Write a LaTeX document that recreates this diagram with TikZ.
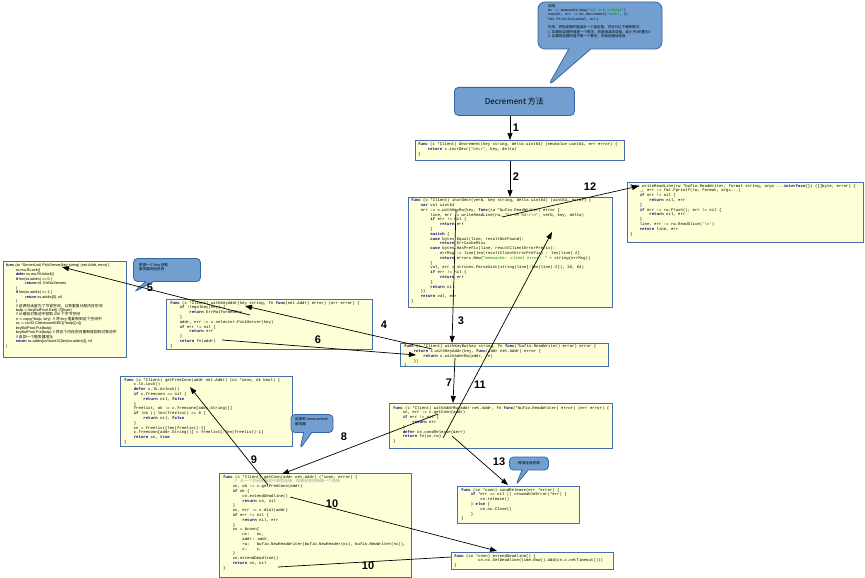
\documentclass[tikz,border=0pt]{standalone}
\usepackage{fontspec}
\setmainfont{Liberation Sans}
\newfontfamily\codefont{Liberation Mono}
\newfontfamily\cjk{Noto Sans CJK SC}
\usetikzlibrary{arrows.meta,calc,shapes.callouts}
\definecolor{boxfill}{RGB}{255,255,215}
\definecolor{boxline}{RGB}{70,110,170}
\definecolor{callfill}{RGB}{114,159,207}
\definecolor{callline}{RGB}{52,101,164}
\definecolor{kwc}{RGB}{0,0,128}
\definecolor{strc}{RGB}{0,128,0}
\definecolor{cmtc}{RGB}{150,150,150}
\newcommand\K[1]{\textcolor{kwc}{\textbf{#1}}}
\newcommand\Sg[1]{\textcolor{strc}{#1}}
\newcommand\Cm[1]{\textcolor{cmtc}{#1}}
\newcommand\I{\hspace*{9.6pt}}
\newcommand\II{\hspace*{19.2pt}}
\newcommand\III{\hspace*{28.8pt}}
\tikzset{
  codebox/.style={draw=boxline, fill=boxfill, line width=0.8pt, anchor=north west, inner sep=0pt, rectangle},
  codetext/.style={anchor=north west, inner sep=0pt, align=left, font=\codefont\fontsize{4}{4.8}\selectfont},
  proptext/.style={anchor=north west, inner sep=0pt, align=left, font=\fontsize{3.8}{4.45}\selectfont},
  arr/.style={line width=0.7pt, draw=black, -{Triangle[length=7pt,width=5pt]}},
  num/.style={font=\bfseries\fontsize{11}{12}\selectfont, inner sep=0pt},
  bubble/.style={rectangle callout, draw=callline, fill=callfill, line width=0.8pt, rounded corners=7pt, inner sep=0pt},
  bubtext/.style={inner sep=0pt, align=left, font=\cjk\fontsize{3.6}{4.4}\selectfont}
}
\begin{document}
\begin{tikzpicture}[x=1pt,y=-1pt]
\useasboundingbox (0,0) rectangle (865,578);

% ---------- callouts ----------
\coordinate (tipA) at (548,86);
\node[bubble, minimum width=124pt, minimum height=47pt, callout absolute pointer=(tipA), callout pointer width=22pt] (callA) at (600,25.5) {};
\node[anchor=north west, inner sep=0pt, align=left, font=\codefont\fontsize{3.5}{4.4}\selectfont] (callAt) at (548,4) {%
{\cjk 调用：}\\
mc := memcache.New(\Sg{"127.0.0.1:11211"})\\
newVal, err := mc.Decrement(\Sg{"hook"}, 1)\\
fmt.Println(newVal, err)\\[4pt]
{\cjk 作用：将指定键的值减去一个固定值，可分为以下两种情况：}\\
{\cjk 1. 如果指定键的值是一个数字，则直接减去该值，若小于0则置为0}\\
{\cjk 2. 如果指定键的值不是一个数字，则返回错误信息}};

\node[draw=callline, fill=callfill, line width=0.8pt, rounded corners=4pt, minimum width=120pt, minimum height=28pt, anchor=north west, font=\cjk\fontsize{8}{9}\selectfont] (dec) at (454,87) {Decrement 方法};

% ---------- code boxes ----------
\node[codebox, minimum width=209pt, minimum height=20pt] (decF) at (415,140) {};
\node[codetext] (decFt) at (418,142.5) {%
\K{func} (c *Client) Decrement(key string, delta uint64) (newValue uint64, err error) \{\\
\I\K{return} c.incrDecr(\Sg{"decr"}, key, delta)\\
\}};

\node[codebox, minimum width=204pt, minimum height=110pt] (incr) at (408,197) {};
\node[codetext] (incrt) at (411,198.5) {%
\K{func} (c *Client) incrDecr(verb, key string, delta uint64) (uint64, error) \{\\
\I\K{var} val uint64\\
\I err := c.withKeyRw(key, \K{func}(rw *bufio.ReadWriter) error \{\\
\II line, err := writeReadLine(rw, \Sg{"\%s \%s \%d\textbackslash r\textbackslash n"}, verb, key, delta)\\
\II\K{if} err != nil \{\\
\III\K{return} err\\
\II\}\\
\II\K{switch} \{\\
\II\K{case} bytes.Equal(line, resultNotFound):\\
\III\K{return} ErrCacheMiss\\
\II\K{case} bytes.HasPrefix(line, resultClientErrorPrefix):\\
\III errMsg := line[len(resultClientErrorPrefix) : len(line)-2]\\
\III\K{return} errors.New(\Sg{"memcache: client error: "} + string(errMsg))\\
\II\}\\
\II val, err = strconv.ParseUint(string(line[:len(line)-2]), 10, 64)\\
\II\K{if} err != nil \{\\
\III\K{return} err\\
\II\}\\
\II\K{return} nil\\
\I\})\\
\I\K{return} val, err\\
\}};

\node[codebox, minimum width=236pt, minimum height=60pt] (wrl) at (627,182) {};
\node[codetext] (wrlt) at (630,184) {%
\K{func} writeReadLine(rw *bufio.ReadWriter, format string, args ...\K{interface}\{\}) ([]byte, error) \{\\
\I\_, err := fmt.Fprintf(rw, format, args...)\\
\I\K{if} err != nil \{\\
\II\K{return} nil, err\\
\I\}\\
\I\K{if} err := rw.Flush(); err != nil \{\\
\II\K{return} nil, err\\
\I\}\\
\I line, err := rw.ReadSlice(\Sg{'\textbackslash n'})\\
\I\K{return} line, err\\
\}};

\node[codebox, minimum width=123pt, minimum height=96pt] (pick) at (3,261) {};
\node[proptext] (pickt) at (6,264) {%
\K{func} (ss *ServerList) PickServer(key string) (net.Addr, error) \{\\
\I ss.mu.RLock()\\
\I\K{defer} ss.mu.RUnlock()\\
\I\K{if} len(ss.addrs) == 0 \{\\
\II\K{return} nil, ErrNoServers\\
\I\}\\
\I\K{if} len(ss.addrs) == 1 \{\\
\II\K{return} ss.addrs[0], nil\\
\I\}\\
\I // {\cjk 这两句话是为了节省空间，以免重复分配内存空间}\\
\I bufp := keyBufPool.Get().(*[]byte)\\
\I // {\cjk 从缓存对象池中获取 256 个字节空间}\\
\I n := copy(*bufp, key) \ // {\cjk 将 key 值复制到这个空间中}\\
\I cs := crc32.ChecksumIEEE((*bufp)[:n])\\
\I keyBufPool.Put(bufp)\\
\I keyBufPool.Put(bufp) // {\cjk 将这个内存空间重新放回到对象池中}\\
\I // {\cjk 返回一个服务器地址}\\
\I\K{return} ss.addrs[cs\%uint32(len(ss.addrs))], nil\\
\}};

\node[codebox, minimum width=206pt, minimum height=50pt] (wka) at (166,299) {};
\node[codetext] (wkat) at (170,301) {%
\K{func} (c *Client) withKeyAddr(key string, fn \K{func}(net.Addr) error) (err error) \{\\
\I\K{if} !legalKey(key) \{\\
\II\K{return} ErrMalformedKey\\
\I\}\\
\I addr, err := c.selector.PickServer(key)\\
\I\K{if} err != nil \{\\
\II\K{return} err\\
\I\}\\
\I\K{return} fn(addr)\\
\}};

\node[codebox, minimum width=208pt, minimum height=23pt] (wkr) at (400,343) {};
\node[codetext] (wkrt) at (404,344.5) {%
\K{func} (c *Client) withKeyRw(key string, fn \K{func}(*bufio.ReadWriter) error) error \{\\
\I\K{return} c.withKeyAddr(key, \K{func}(addr net.Addr) error \{\\
\II\K{return} c.withAddrRw(addr, fn)\\
\I\})\\
\}};

\node[codebox, minimum width=172pt, minimum height=70pt] (gfc) at (120,376) {};
\node[codetext] (gfct) at (124,378) {%
\K{func} (c *Client) getFreeConn(addr net.Addr) (cn *conn, ok bool) \{\\
\I c.lk.Lock()\\
\I\K{defer} c.lk.Unlock()\\
\I\K{if} c.freeconn == nil \{\\
\II\K{return} nil, \K{false}\\
\I\}\\
\I freelist, ok := c.freeconn[addr.String()]\\
\I\K{if} !ok || len(freelist) == 0 \{\\
\II\K{return} nil, \K{false}\\
\I\}\\
\I cn = freelist[len(freelist)-1]\\
\I c.freeconn[addr.String()] = freelist[:len(freelist)-1]\\
\I\K{return} cn, \K{true}\\
\}};

\node[codebox, minimum width=223pt, minimum height=45pt] (war) at (389,403) {};
\node[codetext] (wart) at (393,406) {%
\K{func} (c *Client) withAddrRw(addr net.Addr, fn \K{func}(*bufio.ReadWriter) error) (err error) \{\\
\I cn, err := c.getConn(addr)\\
\I\K{if} err != nil \{\\
\II\K{return} err\\
\I\}\\
\I\K{defer} cn.condRelease(\&err)\\
\I\K{return} fn(cn.rw)\\
\}};

\node[codebox, minimum width=192pt, minimum height=104pt] (gc) at (219,473) {};
\node[codetext] (gct) at (223,475) {%
\K{func} (c *Client) getConn(addr net.Addr) (*conn, error) \{\\
\I\Cm{// {\cjk 从一个空闲连接池中获取连接，如果没有则新建一个连接}}\\
\I cn, ok := c.getFreeConn(addr)\\
\I\K{if} ok \{\\
\II cn.extendDeadline()\\
\II\K{return} cn, nil\\
\I\}\\
\I nc, err := c.dial(addr)\\
\I\K{if} err != nil \{\\
\II\K{return} nil, err\\
\I\}\\
\I cn = \&conn\{\\
\II nc:\ \ \ nc,\\
\II addr: addr,\\
\II rw:\ \ \ bufio.NewReadWriter(bufio.NewReader(nc), bufio.NewWriter(nc)),\\
\II c:\ \ \ \ c,\\
\I\}\\
\I cn.extendDeadline()\\
\I\K{return} cn, nil\\
\}};

\node[codebox, minimum width=122pt, minimum height=37pt] (cr) at (457,486) {};
\node[codetext] (crt) at (461,488) {%
\K{func} (cn *conn) condRelease(err *error) \{\\
\I\K{if} *err == nil || resumableError(*err) \{\\
\II cn.release()\\
\I\} \K{else} \{\\
\II cn.nc.Close()\\
\I\}\\
\}};

\node[codebox, minimum width=162pt, minimum height=17pt] (ed) at (451,552) {};
\node[codetext] (edt) at (454,554) {%
\K{func} (cn *conn) extendDeadline() \{\\
\hspace*{24pt}cn.nc.SetDeadline(time.Now().Add(cn.c.netTimeout()))\\
\}};

% ---------- other callouts ----------
\coordinate (tipB) at (134,292);
\node[bubble, rounded corners=4pt, minimum width=67pt, minimum height=23pt, callout absolute pointer=(tipB), callout pointer width=8pt] (callB) at (167,270) {};
\node[bubtext, anchor=north west] (callBt) at (139,263) {根据一个 key 获取\\服务器地址信息};

\coordinate (tipC) at (300,449);
\node[bubble, rounded corners=4pt, minimum width=42pt, minimum height=18pt, callout absolute pointer=(tipC), callout pointer width=8pt] (callC) at (312,423.5) {};
\node[bubtext, anchor=north west] (callCt) at (295,417.5) {连接到 memcached\\服务器};

\coordinate (tipD) at (516,485);
\node[bubble, rounded corners=4pt, minimum width=39pt, minimum height=13pt, callout absolute pointer=(tipD), callout pointer width=6pt] (callD) at (529,463.5) {};
\node[bubtext] (callDt) at (529,463.5) {释放连接资源};

% ---------- connector end points ----------
\coordinate (s3) at (456,210);   \coordinate (e3) at (452,343);
\coordinate (s12) at (502,217);  \coordinate (e12) at (639,186);
\coordinate (s4) at (432,349);   \coordinate (e4) at (245,306);
\coordinate (s5) at (250,315);   \coordinate (e5) at (62,267);
\coordinate (s6) at (222,340);   \coordinate (e6) at (416,355);
\coordinate (s7) at (455,358);   \coordinate (e7) at (453,403);
\coordinate (s11) at (443,438);  \coordinate (e11) at (552,232);
\coordinate (s8) at (438,414);   \coordinate (e8) at (282,474);
\coordinate (s9) at (268,485);   \coordinate (e9) at (190,387);
\coordinate (s13) at (452,436);  \coordinate (e13) at (508,485);
\coordinate (s10a) at (290,497); \coordinate (e10a) at (497,551);
\coordinate (s10b) at (278,567); \coordinate (e10b) at (451,557);

% ---------- connectors ----------
\draw[arr] (dec.south -| 510,0) -- (decF.north -| 510,0);
\draw[arr] (decF.south -| 510,0) -- (incr.north -| 510,0);
\draw[arr] (s3) -- (e3);
\draw[arr] (s12) -- (e12);
\draw[arr] (s4) -- (e4);
\draw[arr] (s5) -- (e5);
\draw[arr] (s6) -- (e6);
\draw[arr] (s7) -- (e7);
\draw[arr] (s11) -- (e11);
\draw[arr] (s8) -- (e8);
\draw[arr] (s9) -- (e9);
\draw[arr] (s13) -- (e13);
\draw[arr] (s10a) -- (e10a);
\draw[line width=0.7pt] (s10b) -- (e10b);

% ---------- numbers ----------
\node[num] (n1) at (516,128) {1};
\node[num] (n2) at (516,177) {2};
\node[num] (n12) at (590,187) {12};
\node[num] (n3) at (461,321) {3};
\node[num] (n4) at (384,325) {4};
\node[num] (n5) at (150,288) {5};
\node[num] (n6) at (318,340) {6};
\node[num] (n7) at (449,383) {7};
\node[num] (n11) at (480,385) {11};
\node[num] (n8) at (344,437) {8};
\node[num] (n9) at (254,460) {9};
\node[num] (n13) at (499,462) {13};
\node[num] (n10a) at (332,504) {10};
\node[num] (n10b) at (368,566) {10};
\end{tikzpicture}
\end{document}
